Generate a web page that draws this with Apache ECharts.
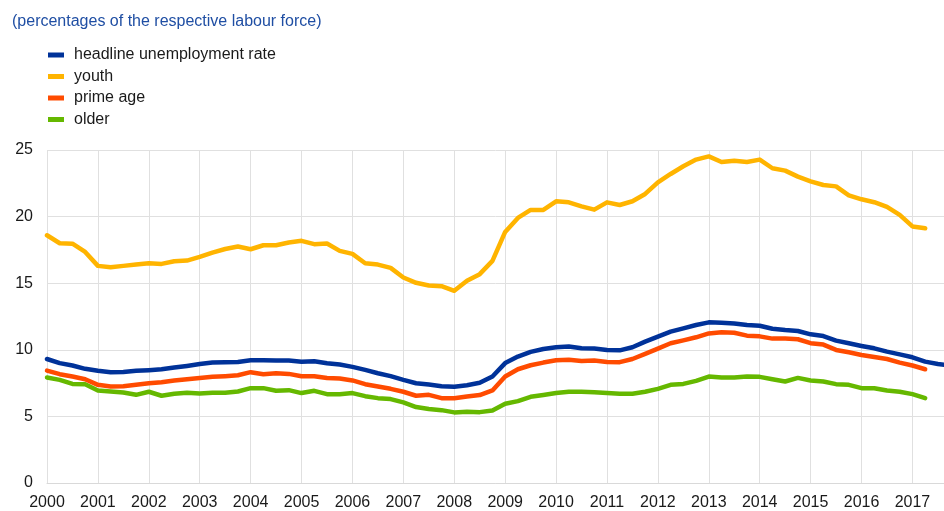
<!DOCTYPE html>
<html>
<head>
<meta charset="utf-8">
<script src="https://cdn.jsdelivr.net/npm/echarts@6/dist/echarts.min.js"></script>
<style>
	html, body { margin: 0; padding: 0; background: #fff; }
	#chart { width: 944px; height: 511px; }
</style>
</head>
<body>
<div id="chart"></div>
<script>
// quarterly data, first point = 2000 Q1
var startYear = 2000;
var yearTicks = [2000, 2001, 2002, 2003, 2004, 2005, 2006, 2007, 2008, 2009, 2010, 2011, 2012, 2013, 2014, 2015, 2016, 2017];
var seriesNames = ['headline unemployment rate', 'youth', 'prime age', 'older'];

var headline = [
	9.31, 9.0, 8.82, 8.57, 8.42, 8.32, 8.34, 8.42, 8.47, 8.54, 8.67, 8.79,
	8.93, 9.04, 9.07, 9.09, 9.21, 9.21, 9.19, 9.19, 9.11, 9.14, 8.99, 8.89,
	8.72, 8.49, 8.24, 8.02, 7.74, 7.49, 7.39, 7.27, 7.22, 7.34, 7.52, 8.0,
	9.0, 9.49, 9.84, 10.06, 10.19, 10.24, 10.11, 10.09, 9.99, 9.96, 10.19, 10.61,
	10.99, 11.36, 11.61, 11.86, 12.06, 12.03, 11.98, 11.86, 11.81, 11.58, 11.48, 11.41,
	11.16, 11.03, 10.69, 10.49, 10.29, 10.11, 9.86, 9.66, 9.44, 9.11, 8.94, 8.8
];
var youth = [
	18.6, 18.0, 17.97, 17.35, 16.3, 16.2, 16.3, 16.4, 16.5, 16.45, 16.65, 16.7,
	16.97, 17.3, 17.57, 17.75, 17.55, 17.85, 17.85, 18.05, 18.18, 17.93, 17.98, 17.43,
	17.2, 16.5, 16.4, 16.15, 15.43, 15.03, 14.83, 14.78, 14.43, 15.18, 15.68, 16.68,
	18.85, 19.9, 20.5, 20.5, 21.15, 21.07, 20.77, 20.52, 21.07, 20.87, 21.15, 21.7,
	22.57, 23.2, 23.78, 24.28, 24.52, 24.1, 24.2, 24.1, 24.28, 23.63, 23.45, 23.0,
	22.65, 22.37, 22.27, 21.6, 21.3, 21.08, 20.73, 20.13, 19.26, 19.12
];
var primeAge = [
	8.44, 8.17, 7.99, 7.79, 7.37, 7.25, 7.27, 7.37, 7.49, 7.57, 7.69, 7.79,
	7.88, 7.97, 8.02, 8.09, 8.32, 8.17, 8.24, 8.19, 8.02, 8.02, 7.89, 7.84,
	7.7, 7.42, 7.24, 7.07, 6.85, 6.55, 6.62, 6.37, 6.37, 6.5, 6.6, 6.95,
	8.0, 8.54, 8.84, 9.04, 9.21, 9.26, 9.16, 9.19, 9.09, 9.07, 9.31, 9.69,
	10.09, 10.49, 10.71, 10.94, 11.23, 11.31, 11.28, 11.06, 11.01, 10.84, 10.84, 10.79,
	10.5, 10.39, 9.99, 9.81, 9.61, 9.46, 9.31, 9.04, 8.82, 8.54
];
var older = [
	7.92, 7.74, 7.44, 7.42, 6.95, 6.87, 6.8, 6.62, 6.85, 6.55, 6.7, 6.77,
	6.72, 6.77, 6.77, 6.87, 7.12, 7.12, 6.92, 6.97, 6.75, 6.92, 6.67, 6.67,
	6.75, 6.52, 6.37, 6.3, 6.05, 5.7, 5.55, 5.47, 5.3, 5.35, 5.32, 5.45,
	5.95, 6.15, 6.47, 6.6, 6.75, 6.85, 6.85, 6.82, 6.75, 6.7, 6.7, 6.85,
	7.07, 7.37, 7.44, 7.67, 7.99, 7.92, 7.92, 7.99, 7.97, 7.79, 7.62, 7.89,
	7.7, 7.62, 7.42, 7.37, 7.12, 7.12, 6.95, 6.85, 6.67, 6.37
];
var colors = ['#003299', '#FFB400', '#FF4B00', '#65B800'];

function toPoints(values) {
	return values.map(function(v, i) {
		return [startYear + i / 4, v];
	});
}

var chart = echarts.init(document.getElementById('chart'));
var textColor = '#1a1a1a';
var font = 'Arial, "Liberation Sans", sans-serif';

var option = {
	animation : false,
	color : colors,
	title : {
		text : '(percentages of the respective labour force)',
		left : 7,
		top : 9,
		textStyle : {
			color : '#1f4ea3',
			fontSize : 16,
			fontWeight : 'normal',
			fontFamily : font
		}
	},
	legend : {
		orient : 'vertical',
		left : 43,
		top : 42,
		itemWidth : 16,
		itemHeight : 5,
		itemGap : 5.5,
		icon : 'rect',
		data : seriesNames,
		textStyle : {
			color : textColor,
			fontSize : 16,
			fontFamily : font,
			padding : [0, 0, 0, 5]
		}
	},
	grid : {
		left : 47,
		right : 0,
		top : 150,
		bottom : 27,
		containLabel : false
	},
	xAxis : {
		type : 'value',
		min : 2000,
		max : 2017.62,
		interval : 1,
		axisLine : { show : true, lineStyle : { color : '#d9d9d9', width : 1 } },
		axisTick : { show : false },
		splitLine : { show : true, lineStyle : { color : '#e0e0e0', width : 1 } },
		axisLabel : {
			color : textColor,
			fontSize : 16,
			fontFamily : font,
			margin : 12,
			showMaxLabel : false,
			formatter : function(v) {
				return yearTicks.indexOf(v) >= 0 ? String(v) : '';
			}
		}
	},
	yAxis : {
		type : 'value',
		min : 0,
		max : 25,
		interval : 5,
		axisLine : { show : false },
		axisTick : { show : false },
		splitLine : { lineStyle : { color : '#e0e0e0', width : 1 } },
		axisLabel : {
			color : textColor,
			fontSize : 16,
			fontFamily : font,
			margin : 14
		}
	},
	series : [
		{ name : seriesNames[0], data : toPoints(headline) },
		{ name : seriesNames[1], data : toPoints(youth) },
		{ name : seriesNames[2], data : toPoints(primeAge) },
		{ name : seriesNames[3], data : toPoints(older) }
	].map(function(s, i) {
		s.type = 'line';
		s.showSymbol = false;
		s.clip = true;
		s.z = 10 - i;
		s.lineStyle = { width : 4.5, color : colors[i], cap : 'round', join : 'round' };
		return s;
	})
};

chart.setOption(option, true);
</script>
</body>
</html>
